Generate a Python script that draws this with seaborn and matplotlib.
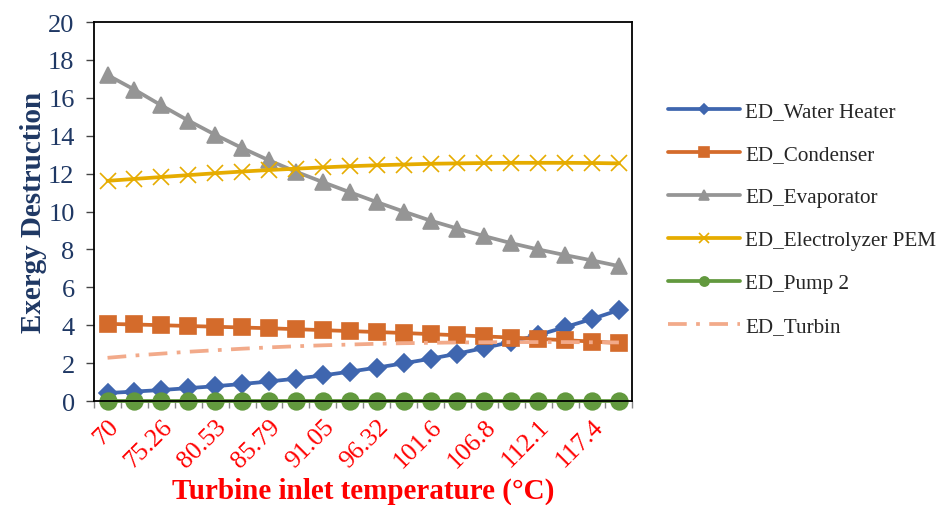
import numpy as np
import pandas as pd
import matplotlib
matplotlib.use("Agg")
import matplotlib.pyplot as plt
import seaborn as sns

# turbine inlet temperature (categories), 70 -> 120 in 20 steps
temps = [70, 72.63, 75.26, 77.89, 80.53, 83.16, 85.79, 88.42, 91.05, 93.68,
         96.32, 98.95, 101.6, 104.2, 106.8, 109.5, 112.1, 114.7, 117.4, 120]
tick_labels = ["70", "75.26", "80.53", "85.79", "91.05",
               "96.32", "101.6", "106.8", "112.1", "117.4"]

water_heater = [0.42, 0.50, 0.58, 0.68, 0.78, 0.90, 1.03, 1.18, 1.35, 1.55,
                1.76, 1.99, 2.23, 2.50, 2.80, 3.12, 3.48, 3.90, 4.33, 4.80]
condenser = [4.07, 4.04, 4.00, 3.96, 3.92, 3.88, 3.84, 3.79, 3.74, 3.69,
             3.64, 3.59, 3.53, 3.47, 3.41, 3.35, 3.28, 3.21, 3.14, 3.06]
evaporator = [17.2, 16.43, 15.6, 14.8, 14.05, 13.35, 12.7, 12.1, 11.55, 11.02,
              10.5, 10.0, 9.52, 9.1, 8.7, 8.33, 8.0, 7.7, 7.42, 7.12]
electrolyzer = [11.62, 11.72, 11.82, 11.92, 12.02, 12.11, 12.19, 12.26, 12.33, 12.39,
                12.44, 12.48, 12.52, 12.54, 12.56, 12.57, 12.57, 12.57, 12.56, 12.54]
pump2 = [0.02] * 20
turbin = [2.28, 2.40, 2.50, 2.60, 2.68, 2.76, 2.83, 2.89, 2.94, 2.98,
          3.02, 3.05, 3.07, 3.09, 3.10, 3.11, 3.11, 3.11, 3.10, 3.09]

sns.set_style("white")
plt.rcParams["font.family"] = ["Liberation Serif", "DejaVu Serif"]

fig = plt.figure(figsize=(9.41, 5.06), dpi=100)
ax = fig.add_axes([0.1, 0.2055, 0.572, 0.749])

pos = np.arange(len(temps))
series = [
    ("ED_Water Heater", water_heater, "#3F66AF", "D", 9.5),
    ("ED_Condenser", condenser, "#D46B2B", "s", 12),
    ("ED_Evaporator", evaporator, "#959595", "^", 12),
    ("ED_Electrolyzer PEM", electrolyzer, "#E6AC00", "x", 12),
    ("ED_Pump 2", pump2, "#62993E", "o", 12),
]
for name, vals, col, mk, ms in series:
    df = pd.DataFrame({"pos": pos, "val": vals})
    sns.lineplot(data=df, x="pos", y="val", ax=ax, color=col, marker=mk,
                 markersize=ms, markeredgecolor=col, markerfacecolor=col,
                 markeredgewidth=1.2, linewidth=2.7, label=name, clip_on=False)

df = pd.DataFrame({"pos": pos, "val": turbin})
sns.lineplot(data=df, x="pos", y="val", ax=ax, color="#F2AA8A", linewidth=2.7,
             linestyle=(0, (5, 2.5, 1, 2.5)), label="ED_Turbin")

ax.set_xlim(-0.5, len(temps) - 0.5)
ax.set_ylim(0, 20)
ax.set_yticks(np.arange(0, 21, 2))
ax.tick_params(axis="y", labelsize=19, labelcolor="#1F3864", length=6,
               direction="out", left=True, width=1, color="#444444", pad=8)

# tick marks at category boundaries, labels at every second category
ax.set_xticks(np.arange(-0.5, len(temps), 1))
ax.set_xticklabels([])
ax.tick_params(axis="x", which="major", length=5, direction="out", bottom=True,
               color="#888888", width=1)
ax.set_xticks(pos[::2], minor=True)
ax.set_xticklabels(tick_labels, minor=True, rotation=45, ha="right",
                   rotation_mode="anchor", color="red", fontsize=18.5)
ax.tick_params(axis="x", which="minor", length=0, pad=10)

for sp in ax.spines.values():
    sp.set_visible(True)
    sp.set_color("black")
    sp.set_linewidth(1.3)

ax.set_xlabel("Turbine inlet temperature (°C)", color="red", fontsize=21,
              fontweight="bold", labelpad=4)
ax.set_ylabel("Exergy Destruction", color="#1F3864", fontsize=21,
              fontweight="bold", labelpad=1)

ax.get_legend().remove()
handles, labels = ax.get_legend_handles_labels()
fig.legend(handles, labels, loc="center left", bbox_to_anchor=(0.710, 0.566),
           frameon=False, fontsize=15.2, handlelength=3.4, handletextpad=0.25,
           labelspacing=1.1, markerscale=0.55, borderpad=0, borderaxespad=0)

fig.savefig("out.png", dpi=100)
